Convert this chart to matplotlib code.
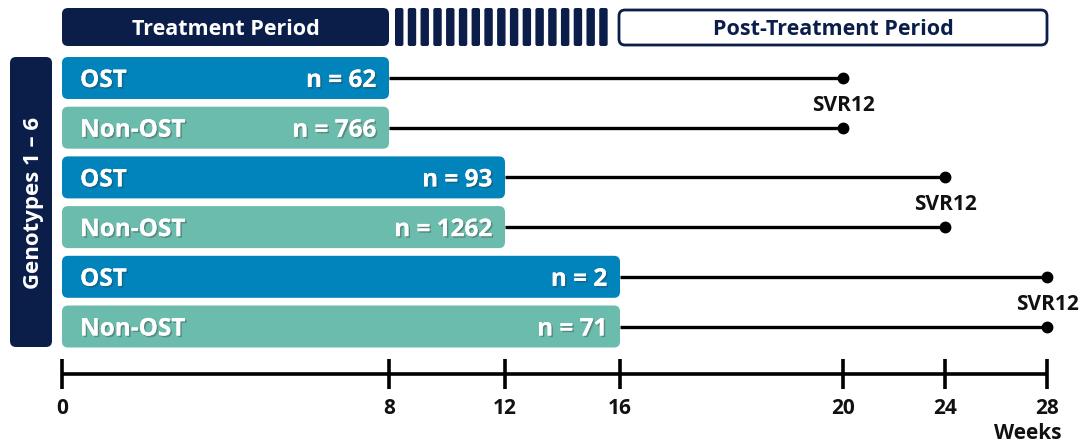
import numpy as np
import matplotlib
matplotlib.use("Agg")
import matplotlib.pyplot as plt
from matplotlib.patches import FancyBboxPatch
from matplotlib.transforms import IdentityTransform
import matplotlib.patheffects as pe

# data
groups      = ["OST", "Non-OST", "OST", "Non-OST", "OST", "Non-OST"]
n_values    = [62, 766, 93, 1262, 2, 71]
treat_weeks = [8, 8, 12, 12, 16, 16]
svr_weeks   = [20, 20, 24, 24, 28, 28]
tick_weeks  = [0, 8, 12, 16, 20, 24, 28]
tick_labels = ["0", "8", "12", "16", "20", "24", "28"]
phases      = [("Treatment Period", 0, 8), ("stripes", 8, 16), ("Post-Treatment Period", 16, 28)]

# layout (pixels)
W, H    = 1087, 444
TICK_PX = [62, 389, 505, 620, 843, 945, 1047]
ROW0, ROW_STEP, BAR_H = 78, 49.7, 42
AXIS_Y  = 374
TXT_DY  = 2.5   # Open Sans sits a bit high with va="center"

NAVY  = "#0b1e4a"
BLUE  = "#0183bb"
TEAL  = "#6cbcad"
FONT  = ["Open Sans", "DejaVu Sans"]


def fwd(w):
    w = np.asarray(w, dtype=float)
    out = np.interp(w, tick_weeks, TICK_PX)
    lo = (TICK_PX[1] - TICK_PX[0]) / (tick_weeks[1] - tick_weeks[0])
    hi = (TICK_PX[-1] - TICK_PX[-2]) / (tick_weeks[-1] - tick_weeks[-2])
    out = np.where(w < tick_weeks[0], TICK_PX[0] + (w - tick_weeks[0]) * lo, out)
    out = np.where(w > tick_weeks[-1], TICK_PX[-1] + (w - tick_weeks[-1]) * hi, out)
    return out


def inv(p):
    p = np.asarray(p, dtype=float)
    out = np.interp(p, TICK_PX, tick_weeks)
    lo = (tick_weeks[1] - tick_weeks[0]) / (TICK_PX[1] - TICK_PX[0])
    hi = (tick_weeks[-1] - tick_weeks[-2]) / (TICK_PX[-1] - TICK_PX[-2])
    out = np.where(p < TICK_PX[0], tick_weeks[0] + (p - TICK_PX[0]) * lo, out)
    out = np.where(p > TICK_PX[-1], tick_weeks[-1] + (p - TICK_PX[-1]) * hi, out)
    return out


fig = plt.figure(figsize=(W / 100, H / 100), dpi=100)
ax = fig.add_axes([0, 0, 1, 1])
ax.set_xscale("function", functions=(fwd, inv))
ax.set_xlim(float(inv(0)), float(inv(W)))
ax.set_ylim(H, 0)
ax.axis("off")


def rbox(w0, w1, y0, y1, fc, r=6, ec="none", lw=0, dx0=0, dx1=0):
    # corners in week/row units, drawn in display pixels so corners stay round
    xa, ya = ax.transData.transform((w0, y1))
    xb, yb = ax.transData.transform((w1, y0))
    xa += dx0
    xb += dx1
    p = FancyBboxPatch((xa, ya), xb - xa, yb - ya,
                       boxstyle=f"round,pad=0,rounding_size={r}",
                       fc=fc, ec=ec, lw=lw, transform=IdentityTransform(),
                       clip_on=False, zorder=2)
    ax.add_patch(p)


shadow = [pe.withSimplePatchShadow(offset=(1.2, -1.2), shadow_rgbFace="#333333", alpha=0.35), pe.Normal()]

# header phases
for name, w0, w1 in phases:
    if name == "stripes":
        x0 = fwd(w0) + 6
        x1 = fwd(w1) - 8
        n = 17
        step = (x1 - x0) / n
        for k in range(n):
            a = inv(x0 + k * step)
            b = inv(x0 + k * step + step * 0.66)
            rbox(a, b, 8, 46, NAVY, r=2)
    elif w0 == 0:
        rbox(w0, w1, 8, 46, NAVY, r=6)
        ax.text(inv((fwd(w0) + fwd(w1)) / 2), 27 + TXT_DY, name, color="white", fontsize=15.5,
                fontweight="bold", ha="center", va="center", family=FONT, zorder=3)
    else:
        rbox(w0, w1, 10, 45, "white", r=6, ec=NAVY, lw=2, dx0=-1)
        ax.text(inv((fwd(w0) + fwd(w1)) / 2), 27 + TXT_DY, name, color=NAVY, fontsize=15.5,
                fontweight="bold", ha="center", va="center", family=FONT, zorder=3)

# genotype side label
gx0, gx1 = float(inv(10)), float(inv(52))
rbox(gx0, gx1, 57, 347, NAVY, r=6)
ax.text(inv(31 + TXT_DY), 203, "Genotypes 1 \u2013 6", rotation=90, color="white", fontsize=16,
        fontweight="bold", ha="center", va="center", family=FONT, zorder=3)

# rows
for i, (g, n, tw, sw) in enumerate(zip(groups, n_values, treat_weeks, svr_weeks)):
    yc = ROW0 + i * ROW_STEP
    color = BLUE if g == "OST" else TEAL
    rbox(0, tw, yc - BAR_H / 2, yc + BAR_H / 2, color, r=6)
    ax.text(inv(fwd(0) + 18), yc + TXT_DY + 0.5, g, color="white", fontsize=17.5,
            fontweight="bold", ha="left", va="center", family=FONT, zorder=3,
            path_effects=shadow)
    ax.text(inv(fwd(tw) - 13), yc + TXT_DY + 0.5, f"n = {n}", color="white", fontsize=17.5,
            fontweight="bold", ha="right", va="center", family=FONT, zorder=3,
            path_effects=shadow)
    ax.plot([tw, sw], [yc, yc], color="black", lw=2.4, zorder=1, solid_capstyle="butt")
    ax.plot([sw], [yc], "o", color="black", ms=7.5, zorder=3)
    if i % 2 == 0:
        ax.text(sw, yc + ROW_STEP / 2 + TXT_DY, "SVR12", color="#111111", fontsize=15,
                fontweight="bold", ha="center", va="center", family=FONT, zorder=3)

# timeline axis
ax.plot([tick_weeks[0], tick_weeks[-1]], [AXIS_Y, AXIS_Y], color="black", lw=2.6,
        solid_capstyle="butt")
for w, lab in zip(tick_weeks, tick_labels):
    ax.plot([w, w], [AXIS_Y - 15, AXIS_Y + 15], color="black", lw=2.6, solid_capstyle="butt")
    ax.text(w, 406 + TXT_DY, lab, color="#111111", fontsize=15, fontweight="bold",
            ha="center", va="center", family=FONT)
ax.text(inv(fwd(tick_weeks[-1]) + 15), 431 + TXT_DY, "Weeks", color="#111111", fontsize=15,
        fontweight="bold", ha="right", va="center", family=FONT)

fig.savefig("out.png", dpi=100)
